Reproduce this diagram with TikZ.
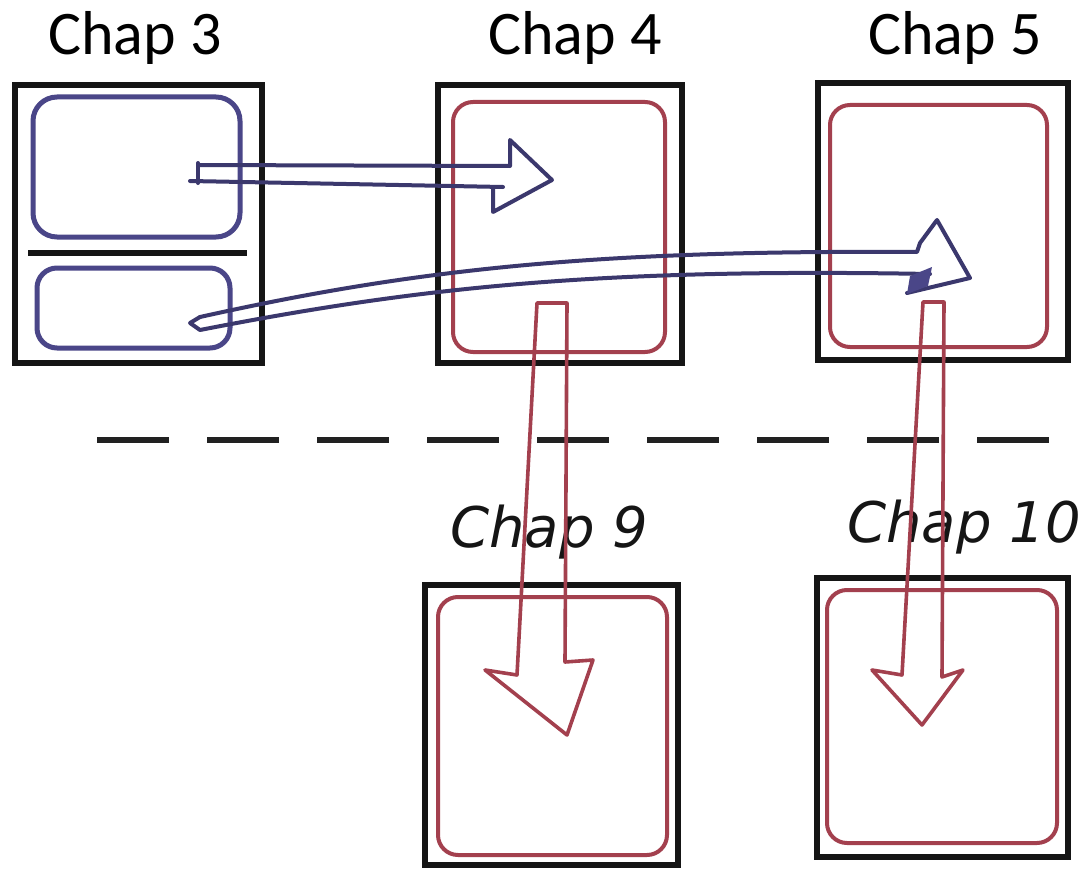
\documentclass[tikz,border=0pt]{standalone}
\usepackage{fontspec}
\setmainfont{Carlito}
\newfontfamily\handfont{DejaVu Sans}
\definecolor{penblue}{HTML}{4A4688}
\definecolor{penred}{HTML}{A3404E}
\definecolor{penblack}{HTML}{151515}
\tikzset{
  outerbox/.style={draw=penblack, line width=6pt, inner sep=0pt, rectangle},
  bluebox/.style={draw=penblue, line width=5pt, inner sep=0pt, rectangle, rounded corners=24pt},
  redbox/.style={draw=penred, line width=4pt, inner sep=0pt, rectangle, rounded corners=20pt},
  printlabel/.style={font=\fontsize{62}{70}\selectfont, anchor=base, inner sep=0pt},
  handlabel/.style={font=\handfont\itshape\fontsize{56}{64}\selectfont, anchor=base west, inner sep=0pt, text=penblack},
  bluearrow/.style={draw=penblue!80!black, line width=4pt, line join=round, line cap=round},
  redarrow/.style={draw=penred, line width=3.6pt, line join=round, line cap=round},
  divider/.style={draw=penblack, line width=6pt},
  sepline/.style={draw=penblack!95, line width=6pt, dash pattern=on 72pt off 38pt}
}
\begin{document}
\begin{tikzpicture}[x=1pt,y=-1pt]
\useasboundingbox (0,0) rectangle (1080,875);
\fill[white] (0,0) rectangle (1080,875);

% labels
\node[printlabel] (l3) at (135,55) {Chap 3};
\node[printlabel] (l4) at (575,55) {Chap 4};
\node[printlabel] (l5) at (955,55) {Chap 5};
\node[handlabel] (l9) at (450,547) {Chap 9};
\node[handlabel] (l10) at (847,542) {Chap 10};

% outer boxes
\node[outerbox, minimum width=247pt, minimum height=278pt] (c3) at (138.5,224) {};
\node[outerbox, minimum width=244pt, minimum height=278pt] (c4) at (560,224) {};
\node[outerbox, minimum width=250pt, minimum height=277pt] (c5) at (943,221.5) {};
\node[outerbox, minimum width=253pt, minimum height=280pt] (c9) at (551.5,725) {};
\node[outerbox, minimum width=251pt, minimum height=279pt] (c10) at (942.5,717.5) {};

% inner boxes
\node[bluebox, minimum width=207pt, minimum height=140pt] (c3a) at (136.5,167) {};
\node[bluebox, minimum width=193pt, minimum height=80pt, rounded corners=20pt] (c3b) at (133.5,308) {};
\draw[divider] (28,253) -- (247,253);
\node[redbox, minimum width=212pt, minimum height=250pt] (c4i) at (559,227) {};
\node[redbox, minimum width=217pt, minimum height=242pt] (c5i) at (938.5,226) {};
\node[redbox, minimum width=229pt, minimum height=258pt] (c9i) at (552.5,726) {};
\node[redbox, minimum width=230pt, minimum height=253pt] (c10i) at (942,716.5) {};

% dashed separator
\draw[sepline] (97,440) -- (1080,440);

% blue arrow 1: Chap 3 (top) -> Chap 4
\coordinate (a1s) at (198,165);
\draw[bluearrow] (198,163) -- (198,183);
\draw[bluearrow] (a1s) -- (510,166) -- (510,140) -- (552,180) -- (493,212) -- (493,188);
\draw[bluearrow] (190,181) -- (503,187);

% blue arrow 2: Chap 3 (bottom) -> Chap 5
\draw[bluearrow] (200,317) .. controls (420,268) and (600,250) .. (917,252) -- (920,243) -- (937,220) -- (970,278) -- (907,293);
\draw[bluearrow] (200,317) -- (190,323) -- (200,330) .. controls (420,287) and (600,268) .. (930,274);
\fill[penblue] (910,276) -- (932,267) -- (928,286) -- (907,294) -- cycle;

% red arrow: Chap 4 -> Chap 9
\draw[redarrow] (517,675) -- (537,303) -- (567,303) -- (565,662) -- (593,660) -- (567,735) -- (485,670) -- cycle;

% red arrow: Chap 5 -> Chap 10
\draw[redarrow] (902,675) -- (923,302) -- (944,302) -- (942,677) -- (963,670) -- (922,725) -- (872,670) -- cycle;
\end{tikzpicture}
\end{document}
